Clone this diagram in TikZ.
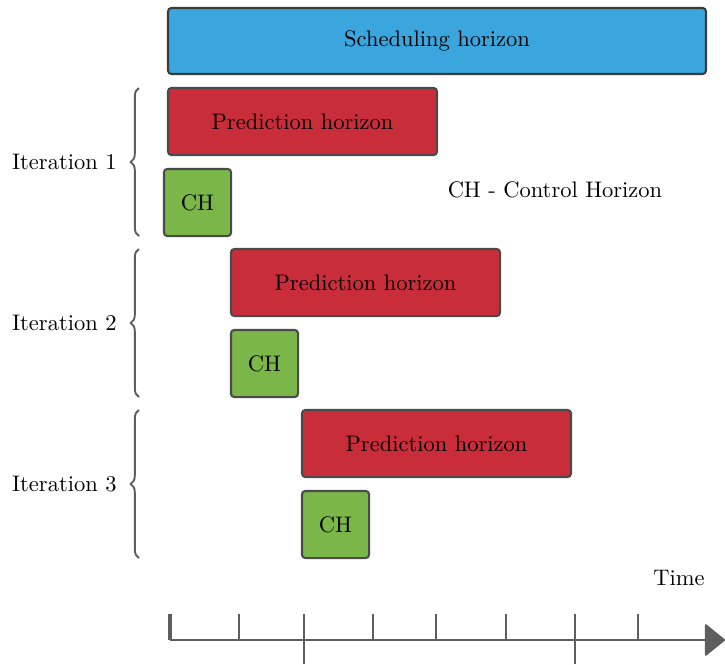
\documentclass[tikz,border=0pt]{standalone}
\usetikzlibrary{decorations.pathreplacing,arrows.meta}

\definecolor{schedblue}{HTML}{3BA5DD}
\definecolor{predred}{HTML}{C92D39}
\definecolor{chgreen}{HTML}{7AB648}
\definecolor{boxline}{HTML}{4A4A4A}
\definecolor{axisgray}{HTML}{5E5E5E}

\tikzset{
    every node/.style={font=\fontsize{10.8}{13}\selectfont},
    box/.style={draw=boxline, line width=1pt, rounded corners=1.6pt, inner sep=0pt},
    schedbox/.style={box, draw=boxline!80!black, fill=schedblue, minimum width=258.2pt, minimum height=31.7pt},
    predbox/.style={box, fill=predred, minimum width=129.1pt, minimum height=32.2pt},
    chbox/.style={box, fill=chgreen, minimum width=32.2pt, minimum height=32.2pt},
    itbrace/.style={decorate, decoration={brace, amplitude=4pt}, draw=axisgray, line width=0.9pt},
    tick/.style={draw=axisgray, line width=0.9pt}
}

\begin{document}
\begin{tikzpicture}[x=0.48pt, y=-0.48pt]

    \useasboundingbox (0,0) rectangle (725,664);

    % Scheduling horizon
    \node[schedbox] (sched) at (437,41) {Scheduling horizon};

    % Iterations
    \node[predbox] (pred1) at (302.5,121.5) {Prediction horizon};
    \node[chbox] (ch1) at (197.5,202.5) {CH};
    \node[predbox] (pred2) at (365.5,282.5) {Prediction horizon};
    \node[chbox] (ch2) at (264.5,363.5) {CH};
    \node[predbox] (pred3) at (436.5,443.5) {Prediction horizon};
    \node[chbox] (ch3) at (335.5,524.5) {CH};

    % Braces
    \draw[itbrace] (139,236) -- node[midway, left=7pt] (it1) {Iteration 1} (139,88);
    \draw[itbrace] (139,397) -- node[midway, left=7pt] (it2) {Iteration 2} (139,249);
    \draw[itbrace] (139,558) -- node[midway, left=7pt] (it3) {Iteration 3} (139,410);

    % Legend
    \node (legend) at (555,190) {CH - Control Horizon};
    \node (time) at (679,578) {Time};

    % Time axis
    \coordinate (t0) at (170,640);
    \coordinate (tend) at (725,640);
    \draw[axisgray, line width=1pt, -{Triangle[length=10pt, width=16pt, round]}] (t0) -- (tend);
    \draw[tick, line width=1.5pt] (t0) -- ++(0,-26);
    \foreach \x in {239,373,436,506,638}
        \draw[tick] (\x,640) -- (\x,614);
    \foreach \x in {304,575}
        \draw[tick] (\x,664) -- (\x,614);

\end{tikzpicture}
\end{document}
